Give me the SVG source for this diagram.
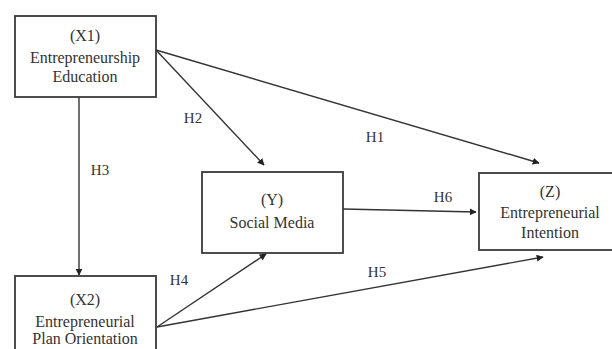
<svg xmlns="http://www.w3.org/2000/svg" width="612" height="349" viewBox="0 0 612 349">
<style>
.box{fill:#fff;stroke:#3a3a3a;stroke-width:1.8}
.t{font-family:"Liberation Serif","Times New Roman",serif;font-size:16px;fill:#333;text-anchor:middle}
.l{font-family:"Liberation Serif","Times New Roman",serif;font-size:15px;fill:#333;text-anchor:middle}
.c{stroke:#333;stroke-width:1.4;fill:none;marker-end:url(#ah)}
</style>
<defs>
<marker id="ah" viewBox="0 0 10 10" refX="9" refY="5" markerWidth="7" markerHeight="7" markerUnits="userSpaceOnUse" orient="auto">
<path d="M0,0 L10,5 L0,10 z" fill="#222"/>
</marker>
</defs>
<rect width="612" height="349" fill="#fff"/>
<g id="connectors">
<line class="c" x1="156" y1="50" x2="539" y2="163"/>
<line class="c" x1="156" y1="50" x2="264" y2="165"/>
<line class="c" x1="79" y1="97" x2="79" y2="275"/>
<line class="c" x1="157" y1="327" x2="266" y2="254"/>
<line class="c" x1="157" y1="327" x2="543" y2="257"/>
<line class="c" x1="343" y1="209" x2="476" y2="212"/>
<text class="l" x="193" y="123">H2</text>
<text class="l" x="375" y="142">H1</text>
<text class="l" x="100" y="175">H3</text>
<text class="l" x="443" y="202">H6</text>
<text class="l" x="179" y="285">H4</text>
<text class="l" x="377" y="277">H5</text>
</g>
<g id="X1">
<rect class="box" x="15" y="16" width="141" height="81"/>
<text class="t" x="85" y="41">(X1)</text>
<text class="t" x="85" y="63">Entrepreneurship</text>
<text class="t" x="85" y="82">Education</text>
</g>
<g id="X2">
<rect class="box" x="15" y="276" width="141" height="90"/>
<text class="t" x="85" y="305">(X2)</text>
<text class="t" x="85" y="327">Entrepreneurial</text>
<text class="t" x="85" y="344">Plan Orientation</text>
</g>
<g id="Y">
<rect class="box" x="202" y="172" width="141" height="81"/>
<text class="t" x="272" y="205">(Y)</text>
<text class="t" x="272" y="228">Social Media</text>
</g>
<g id="Z">
<rect class="box" x="479" y="173" width="141" height="77"/>
<text class="t" x="550" y="197">(Z)</text>
<text class="t" x="550" y="218">Entrepreneurial</text>
<text class="t" x="550" y="238">Intention</text>
</g>
</svg>
